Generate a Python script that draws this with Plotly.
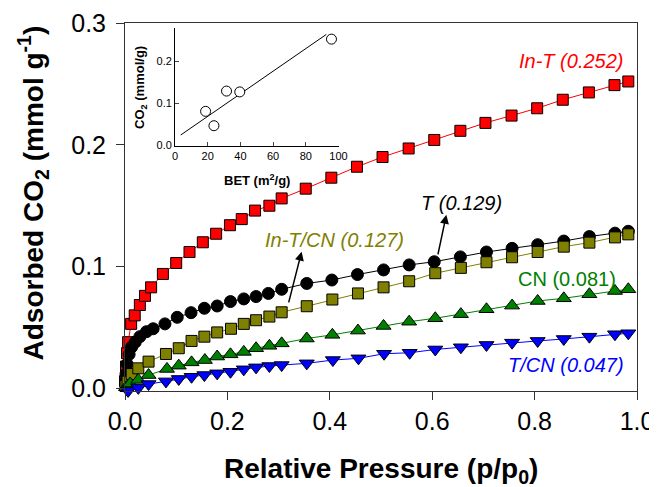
import plotly.graph_objects as go

# ---------------- data ----------------
int_x = [0.0, 0.002, 0.004, 0.006, 0.012, 0.019, 0.029, 0.039, 0.051, 0.074, 0.100, 0.126, 0.152, 0.178,
         0.205, 0.228, 0.254, 0.282, 0.306, 0.353, 0.403, 0.453, 0.503, 0.554, 0.604, 0.655, 0.704, 0.755,
         0.805, 0.855, 0.906, 0.956, 0.983]
int_y = [0.006, 0.018, 0.029, 0.038, 0.053, 0.060, 0.0685, 0.076, 0.083, 0.094, 0.103, 0.112, 0.120, 0.127,
         0.134, 0.139, 0.146, 0.150, 0.156, 0.164, 0.173, 0.182, 0.190, 0.197, 0.204, 0.2115, 0.218, 0.224,
         0.230, 0.237, 0.243, 0.249, 0.252]

t_x = [0.001, 0.002, 0.004, 0.008, 0.013, 0.020, 0.029, 0.042, 0.055, 0.078, 0.102, 0.129, 0.155, 0.180,
       0.206, 0.232, 0.256, 0.280, 0.306, 0.355, 0.404, 0.454, 0.505, 0.555, 0.604, 0.655, 0.706, 0.756,
       0.806, 0.857, 0.907, 0.957, 0.983]
t_y = [0.006, 0.012, 0.020, 0.028, 0.034, 0.038, 0.0425, 0.0466, 0.049, 0.053, 0.0584, 0.0622, 0.0658, 0.0677,
       0.0713, 0.0735, 0.0754, 0.078, 0.0814, 0.0862, 0.089, 0.0935, 0.0973, 0.1014, 0.104, 0.108, 0.112, 0.115,
       0.118, 0.121, 0.1247, 0.1275, 0.129]

intcn_x = [0.001, 0.005, 0.013, 0.026, 0.046, 0.080, 0.105, 0.130, 0.155, 0.180, 0.207, 0.232, 0.256, 0.282,
           0.306, 0.355, 0.405, 0.455, 0.505, 0.555, 0.606, 0.656, 0.706, 0.756, 0.806, 0.857, 0.907, 0.957, 0.983]
intcn_y = [0.002, 0.0055, 0.0118, 0.0165, 0.022, 0.0283, 0.033, 0.039, 0.0425, 0.046, 0.049, 0.053, 0.056, 0.059,
           0.0625, 0.0675, 0.073, 0.078, 0.083, 0.088, 0.0946, 0.099, 0.1036, 0.1077, 0.112, 0.1164, 0.1197, 0.124, 0.1265]

cn_x = [0.002, 0.010, 0.026, 0.046, 0.082, 0.105, 0.130, 0.156, 0.180, 0.206, 0.232, 0.256, 0.282, 0.306,
        0.355, 0.405, 0.455, 0.505, 0.555, 0.606, 0.656, 0.706, 0.756, 0.806, 0.857, 0.907, 0.957, 0.983]
cn_y = [0.001, 0.004, 0.007, 0.011, 0.016, 0.0187, 0.0214, 0.0233, 0.0262, 0.028, 0.030, 0.033, 0.035, 0.037,
        0.041, 0.044, 0.0475, 0.0513, 0.0548, 0.0576, 0.061, 0.065, 0.068, 0.0718, 0.074, 0.0773, 0.080, 0.0814]

tcn_x = [0.006, 0.026, 0.046, 0.080, 0.105, 0.130, 0.155, 0.180, 0.206, 0.232, 0.256, 0.282, 0.306, 0.355,
         0.406, 0.456, 0.506, 0.556, 0.606, 0.656, 0.706, 0.756, 0.806, 0.857, 0.907, 0.957, 0.983]
tcn_y = [-0.002, 0.0005, 0.0036, 0.0058, 0.0078, 0.0096, 0.011, 0.0124, 0.0137, 0.0157, 0.0173, 0.0184, 0.0192, 0.0206,
         0.0233, 0.0247, 0.0285, 0.0293, 0.032, 0.0338, 0.0357, 0.0376, 0.039, 0.0406, 0.0425, 0.0445, 0.0453]

# inset: BET surface area vs CO2 uptake
bet_x = [18.7, 23.8, 31.5, 39.6, 95.7]
bet_y = [0.081, 0.047, 0.129, 0.127, 0.252]
fit_x = [3.5, 92.5]
fit_y = [0.025, 0.263]

x_ticks = [0.0, 0.2, 0.4, 0.6, 0.8, 1.0]
y_ticks = [0.0, 0.1, 0.2, 0.3]
inset_x_ticks = [0, 20, 40, 60, 80, 100]
inset_y_ticks = [0.0, 0.1, 0.2]

FONT = "Liberation Sans, Arial, sans-serif"

series = [
    ("In-T", int_x, int_y, "square", "#FF0000", "#FF0000", 11),
    ("T", t_x, t_y, "circle", "#000000", "#000000", 12),
    ("In-T/CN", intcn_x, intcn_y, "square", "#808000", "#808000", 11),
    ("CN", cn_x, cn_y, "triangle-up", "#008000", "#008000", 13),
    ("T/CN", tcn_x, tcn_y, "triangle-down", "#0000FF", "#0000FF", 13),
]

fig = go.Figure()
for name, xs, ys, sym, fill, lc, sz in series:
    fig.add_trace(go.Scatter(
        x=xs, y=ys, mode="lines+markers", name=name, cliponaxis=False,
        line=dict(color=lc, width=1),
        marker=dict(symbol=sym, size=sz, color=fill, line=dict(color="#000000", width=1)),
        xaxis="x", yaxis="y", showlegend=False))

fig.add_trace(go.Scatter(x=fit_x, y=fit_y, mode="lines", line=dict(color="black", width=1),
                         xaxis="x2", yaxis="y2", showlegend=False))
fig.add_trace(go.Scatter(x=bet_x, y=bet_y, mode="markers", cliponaxis=False,
                         marker=dict(symbol="circle", size=10, color="white",
                                     line=dict(color="black", width=1)),
                         xaxis="x2", yaxis="y2", showlegend=False))

axis_col = "#333333"
# the page body has an 8px default margin, so margins are reduced by 8px on left/top
fig.update_layout(
    width=657, height=487,
    margin=dict(l=117, r=28, t=15, b=104, autoexpand=False),
    paper_bgcolor="white", plot_bgcolor="white",
    font=dict(family=FONT, color="black"),
    xaxis=dict(range=[0, 1.0], tickvals=x_ticks, ticktext=[f"{v:.1f}" for v in x_ticks],
               ticks="outside", ticklen=8, tickcolor=axis_col, showline=True, linecolor=axis_col,
               linewidth=1, mirror=True, showgrid=False, zeroline=False, automargin=False,
               ticklabelstandoff=0, tickfont=dict(size=25, family=FONT)),
    yaxis=dict(range=[-0.0021, 0.3], tickvals=y_ticks, ticktext=[f"{v:.1f}" for v in y_ticks],
               ticks="outside", ticklen=8, tickcolor=axis_col, showline=True, linecolor=axis_col,
               linewidth=1, mirror=True, showgrid=False, zeroline=False, automargin=False,
               ticklabelstandoff=5, tickfont=dict(size=25, family=FONT)),
    xaxis2=dict(domain=[0.0977, 0.417], anchor="y2", range=[0, 100], tickvals=inset_x_ticks,
                ticks="inside", ticklen=4, showline=True, linecolor="black", linewidth=1,
                showgrid=False, zeroline=False, automargin=False, tickfont=dict(size=11, family=FONT)),
    yaxis2=dict(domain=[0.667, 0.986], anchor="x2", range=[0, 0.278], tickvals=inset_y_ticks,
                ticktext=[f"{v:.1f}" for v in inset_y_ticks],
                ticks="inside", ticklen=4, showline=True, linecolor="black", linewidth=1,
                showgrid=False, zeroline=False, automargin=False, tickfont=dict(size=11, family=FONT)),
)

ann = []
# axis titles
ann.append(dict(xref="paper", yref="paper", x=0.5, y=-0.217, xanchor="center", yanchor="middle",
                text="<b>Relative Pressure (p/p<sub>0</sub>)</b>", showarrow=False,
                font=dict(size=28, family=FONT, color="black")))
ann.append(dict(xref="paper", yref="paper", x=-0.18, y=0.539, xanchor="center", yanchor="middle",
                text="<b>Adsorbed CO<sub>2</sub> (mmol g<sup>-1</sup>)</b>", textangle=-90, showarrow=False,
                font=dict(size=28, family=FONT, color="black")))
# inset titles
ann.append(dict(xref="paper", yref="paper", x=0.257, y=0.573, xanchor="center", yanchor="middle",
                text="<b>BET (m<sup>2</sup>/g)</b>", showarrow=False,
                font=dict(size=13, family=FONT, color="black")))
ann.append(dict(xref="paper", yref="paper", x=0.029, y=0.826, xanchor="center", yanchor="middle",
                text="<b>CO<sub>2</sub> (mmol/g)</b>", textangle=-90, showarrow=False,
                font=dict(size=13, family=FONT, color="black")))
# series labels
labels = [
    ("<i>In-T (0.252)</i>", 0.872, 0.269, "#FF0000"),
    ("<i>T (0.129)</i>", 0.658, 0.152, "#000000"),
    ("<i>In-T/CN (0.127)</i>", 0.410, 0.122, "#808000"),
    ("CN (0.081)", 0.8635, 0.0896, "#008000"),
    ("<i>T/CN (0.047)</i>", 0.8616, 0.0192, "#0000FF"),
]
for txt, x, y, c in labels:
    ann.append(dict(xref="x", yref="y", x=x, y=y, text=txt, showarrow=False,
                    xanchor="center", yanchor="middle", font=dict(size=20, family=FONT, color=c)))
# arrows
ann.append(dict(xref="x", yref="y", axref="x", ayref="y", x=0.345, y=0.1123, ax=0.319, ay=0.0694,
                text="", showarrow=True, arrowhead=2, arrowsize=1.2, arrowwidth=1.5, arrowcolor="black"))
ann.append(dict(xref="x", yref="y", axref="x", ayref="y", x=0.6276, y=0.1425, ax=0.6106, ay=0.1088,
                text="", showarrow=True, arrowhead=2, arrowsize=1.2, arrowwidth=1.5, arrowcolor="black"))
fig.update_layout(annotations=ann)

fig.write_html("out.html")
